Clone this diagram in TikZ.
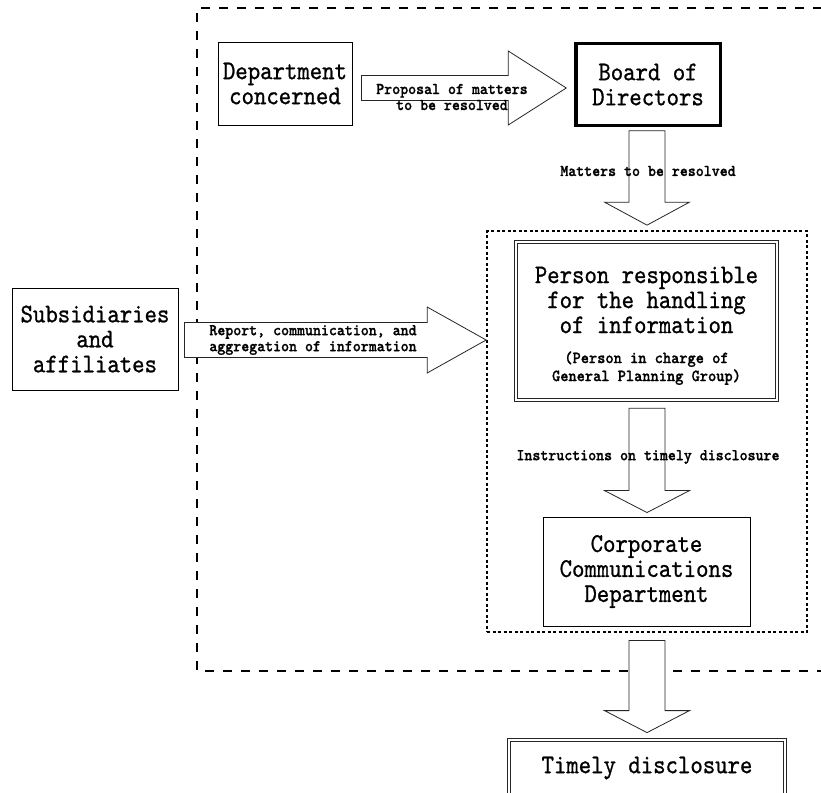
\documentclass[tikz,border=0pt]{standalone}
\usepackage{fontspec}
\usetikzlibrary{calc}
\newfontfamily\bigf{lmmono10-regular.otf}[FakeStretch=0.875,FakeBold=0.8]
\newfontfamily\labf{lmmonolt10-bold.otf}[FakeStretch=0.92,FakeBold=1]
\newcommand\bigsize{\bigf\fontsize{27}{25}\selectfont}
\newcommand\subsize{\labf\fontsize{17}{18}\selectfont}
% horizontal block arrow: start, tip, shaft half, head half, head length
\newcommand\harrowx[5]{\draw[barrow] ($(#1)+(0,-#3)$) -- ($(#2)+(-#5,-#3)$) -- ($(#2)+(-#5,-#4)$) -- (#2) -- ($(#2)+(-#5,#4)$) -- ($(#2)+(-#5,#3)$) -- ($(#1)+(0,#3)$) -- cycle;}
% vertical block arrow (downwards)
\newcommand\varrowx[5]{\draw[barrow] ($(#1)+(-#3,0)$) -- ($(#2)+(-#3,-#5)$) -- ($(#2)+(-#4,-#5)$) -- (#2) -- ($(#2)+(#4,-#5)$) -- ($(#2)+(#3,-#5)$) -- ($(#1)+(#3,0)$) -- cycle;}
\tikzset{
  box/.style={draw, line width=0.9pt, inner sep=0pt, align=center, font=\bigsize},
  dbox/.style={box, double, double distance=2.6pt, line width=0.8pt, draw=black!85},
  barrow/.style={draw=black!85, fill=white, line width=0.8pt, line join=miter},
  lab/.style={inner sep=0pt, align=center, font=\labf\fontsize{16.5}{16}\selectfont},
  outerdash/.style={draw, line width=1.8pt, dash pattern=on 9pt off 9pt},
  innerdot/.style={draw, line width=1.7pt, dash pattern=on 3pt off 2.5pt, inner sep=0pt}
}
\begin{document}
\begin{tikzpicture}[x=1pt,y=-1pt]
\useasboundingbox (0,0) rectangle (821,792);
\fill[white] (0,0) rectangle (821,792);
% outer dashed frame (right side outside the picture)
\draw[outerdash] (840,8) -- (197,8) -- (197,671) -- (840,671);
% inner dotted group
\node[innerdot, minimum width=320pt, minimum height=401pt] (grp) at (647,431.5) {};
% boxes
\node[box, minimum width=134pt, minimum height=83pt] (dept) at (285,83.5) {Department\\concerned};
\node[box, line width=3.5pt, minimum width=144.5pt, minimum height=81.5pt] (board) at (648,84.5) {Board of\\Directors};
\node[box, minimum width=166pt, minimum height=102pt] (subs) at (95,339) {Subsidiaries\\and\\affiliates};
\node[dbox, minimum width=260.8pt, minimum height=157.8pt] (person) at (646.5,321)
  {\rule{0pt}{26pt}Person responsible\\for the handling\\of information\\[5pt]\subsize (Person in charge of\\[-7pt]\subsize General Planning Group)};
\node[box, minimum width=207pt, minimum height=109pt] (corp) at (646.5,571.5) {Corporate\\Communications\\Department};
\node[dbox, minimum width=275.8pt, minimum height=56pt] (timely) at (647,768) {Timely disclosure};
% arrow anchor points
\coordinate (p1s) at ($(dept.east)+(9,4.5)$);
\coordinate (p1t) at ($(board.west)+(-7.75,3.5)$);
\coordinate (rs) at ($(subs.east)+(6,1)$);
\coordinate (rt) at ($(grp.west)+(0,-91.5)$);
\coordinate (a1s) at ($(board.south)+(-1,3.75)$);
\coordinate (a1t) at ($(grp.north)+(0,-5)$);
\coordinate (a3s) at ($(person.south)+(0.5,8)$);
\coordinate (a3t) at ($(corp.north)+(0.5,-4)$);
\coordinate (a4s) at ($(corp.south)+(0.5,14)$);
\coordinate (a4t) at ($(timely.north)+(0,-7)$);
% block arrows
\harrowx{p1s}{p1t}{12.5}{37}{58}
\harrowx{rs}{rt}{17.5}{33}{59}
\varrowx{a1s}{a1t}{18}{42.5}{23}
\varrowx{a3s}{a3t}{18}{42.5}{22}
\varrowx{a4s}{a4t}{18}{42.5}{22}
% labels
\node[lab] (l1) at (452,97) {Proposal of matters\\to be resolved};
\node[lab] (l2) at (648,171) {Matters to be resolved};
\node[lab, align=left] (l3) at (313,340) {Report, communication, and\\aggregation of information};
\node[lab] (l4) at (648,457) {Instructions on timely disclosure};
\end{tikzpicture}
\end{document}
